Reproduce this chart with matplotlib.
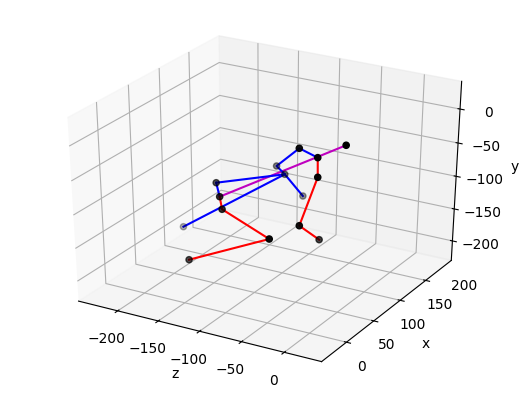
import matplotlib
matplotlib.use("Agg")
import matplotlib.pyplot as plt

# joints of the pose, one entry per joint
joint_z = [-0.8, -25.0, -47.9, -115.9, -101.2, -90.0, -142.7, -117.6, -111.2, -203.1, -40.0, -136.2, -18.5, -22.2, -23.3]
joint_x = [110.5, 98.5, 101.1, 162.7, 155.7, 172.0, 96.5, 67.2, 62.0, 121.9, 38.8, 40.4, 89.0, 63.6, 100.6]
joint_y = [9.7, -7.7, -1.7, -77.9, -82.7, -121.5, -73.9, -71.4, -85.2, -171.6, -95.2, -154.7, -28.8, -85.3, -127.8]

# bones as joint indices
spine = [0, 7]
arm_right = [1, 2, 3, 4, 5]
arm_left = [6, 4]
arm_left_low = [9, 4]
shoulder = [6, 7]
leg_right = [1, 12, 13, 14]
leg_left = [7, 8, 10, 11]

z_ticks = [-200, -150, -100, -50, 0]
x_ticks = [50, 100, 150, 200]
x_labels = ["0", "50", "100", "150", "200"]
y_ticks = [-200, -150, -100, -50, 0]


def draw_bone(ax, bone, color):
    ax.plot([joint_z[i] for i in bone], [joint_x[i] for i in bone], [joint_y[i] for i in bone], color)


fig = plt.figure(figsize=(5.23, 3.96), dpi=100)
ax = fig.add_axes([33 / 523, 26.5 / 396, 458 / 523, 345 / 396], projection="3d")
ax.apply_aspect = lambda position=None: None  # keep the box stretched like old mplot3d
ax.set_box_aspect((1, 1, 0.99), zoom=1.026)

ax.scatter(joint_z, joint_x, joint_y, c="k")
draw_bone(ax, spine, "m")
draw_bone(ax, arm_right, "b")
draw_bone(ax, arm_left, "b")
draw_bone(ax, arm_left_low, "b")
draw_bone(ax, shoulder, "b")
draw_bone(ax, leg_right, "r")
draw_bone(ax, leg_left, "r")

ax.set_xlabel("z", labelpad=2)
ax.set_ylabel("x", labelpad=2)
ax.set_zlabel("y", labelpad=3)
ax.set_xlim(-249, 43)
ax.set_ylim(6, 252)
ax.set_zlim(-231, 40)
ax.set_xticks(z_ticks)
ax.set_yticks(x_ticks)
ax.set_yticklabels([])
ax.set_zticks(y_ticks)

# x tick labels sit further right than mplot3d puts them now
for label, px, py in zip(x_labels, [361, 387, 413, 440, 464], [367, 345, 325, 305, 286]):
    fig.text(px / 523, 1 - py / 396, label, ha="center", va="center")

fig.savefig("out.png", dpi=100)
